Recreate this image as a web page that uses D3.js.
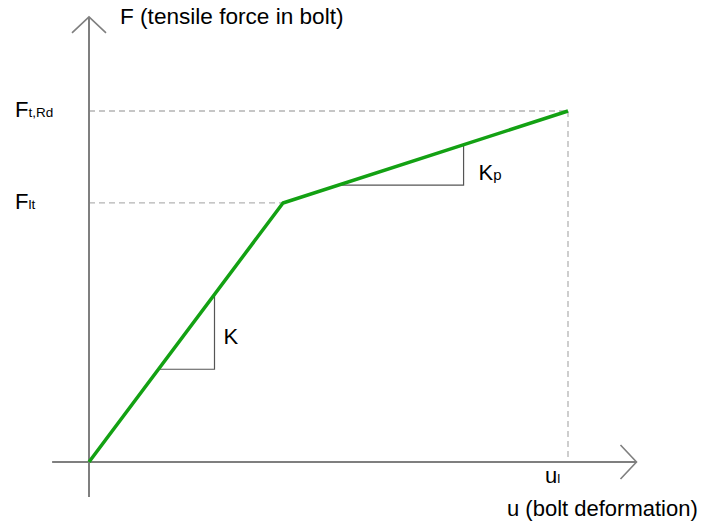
<!DOCTYPE html>
<html><head><meta charset="utf-8">
<script src="https://cdn.jsdelivr.net/npm/d3@7"></script>
<style>
html,body{margin:0;padding:0;background:#fff;}
svg text{font-family:"Liberation Sans",Arial,sans-serif;fill:#000;}
</style></head>
<body>
<svg id="chart" width="702" height="522"></svg>
<script>
// Data (normalised units)
const uPoints = [0, 0.405, 1.0];        // bolt deformation: origin, u at F_lt, u_l
const fPoints = [0, 0.738, 1.0];        // tensile force: origin, F_lt, F_t,Rd
const xAxisExtent = [-0.077, 1.143];
const yAxisExtent = [-0.10, 1.268];
const slopeTriangles = [
  {label: "K", sub: "", seg: 0, u0: 0.145, u1: 0.262},
  {label: "K", sub: "p", seg: 1, u0: 0.52, u1: 0.782}
];
const yLabels = [
  {main: "F", sub: "t,Rd", f: 1.0},
  {main: "F", sub: "lt", f: 0.738}
];
const xLabel = {main: "u", sub: "l", u: 1.0};
const yTitle = "F (tensile force in bolt)";
const xTitle = "u (bolt deformation)";

const svg = d3.select("#chart");
const x = d3.scaleLinear().domain([0, 1]).range([89, 568]);
const y = d3.scaleLinear().domain([0, 1]).range([462, 111]);

const axisColor = "#7f7f7f";

// dashed guide lines
const dash = svg.append("g").attr("stroke", "#b4b4b4").attr("stroke-width", 1.3)
  .attr("stroke-dasharray", "6,4").attr("fill", "none");
dash.append("line").attr("x1", x(0)).attr("x2", x(uPoints[2])).attr("y1", y(fPoints[2])).attr("y2", y(fPoints[2]));
dash.append("line").attr("x1", x(0)).attr("x2", x(uPoints[1])).attr("y1", y(fPoints[1])).attr("y2", y(fPoints[1]));
dash.append("line").attr("x1", x(uPoints[2])).attr("x2", x(uPoints[2])).attr("y1", y(fPoints[2])).attr("y2", y(0));

// axes
const ax = svg.append("g").attr("stroke", axisColor).attr("fill", "none");
ax.append("line").attr("x1", x(xAxisExtent[0])).attr("x2", x(xAxisExtent[1]))
  .attr("y1", y(0)).attr("y2", y(0)).attr("stroke-width", 2);
ax.append("line").attr("x1", x(0)).attr("x2", x(0))
  .attr("y1", y(yAxisExtent[0])).attr("y2", y(yAxisExtent[1])).attr("stroke-width", 2);
// arrow heads
const xt = x(xAxisExtent[1]), yt = y(yAxisExtent[1]);
ax.append("path").attr("stroke-width", 1.6).attr("stroke-linejoin", "miter")
  .attr("d", `M${xt-16},${y(0)-17} L${xt},${y(0)} L${xt-16},${y(0)+17}`);
ax.append("path").attr("stroke-width", 1.6).attr("stroke-linejoin", "miter")
  .attr("d", `M${x(0)-17},${yt+16} L${x(0)},${yt} L${x(0)+17},${yt+16}`);

// slope triangles
function fOnSeg(seg, u) {
  const u0 = uPoints[seg], u1 = uPoints[seg+1], f0 = fPoints[seg], f1 = fPoints[seg+1];
  return f0 + (u - u0) * (f1 - f0) / (u1 - u0);
}
const labelOffsets = [{dx: 9, dy: -25}, {dx: 15, dy: -5}];
const tri = svg.append("g").attr("stroke", "#555").attr("stroke-width", 1.2).attr("fill", "none");
slopeTriangles.forEach((t, i) => {
  const fa = fOnSeg(t.seg, t.u0), fb = fOnSeg(t.seg, t.u1);
  tri.append("path").attr("d",
    `M${x(t.u0)},${y(fa)} L${x(t.u1)},${y(fa)} L${x(t.u1)},${y(fb)}`);
  const tx = svg.append("text").attr("x", x(t.u1) + labelOffsets[i].dx).attr("y", y(fa) + labelOffsets[i].dy)
    .attr("font-size", 22).text(t.label);
  if (t.sub) tx.append("tspan").attr("font-size", 15).text(t.sub);
});

// green force-deformation curve
svg.append("path")
  .datum(d3.zip(uPoints, fPoints))
  .attr("fill", "none").attr("stroke", "#13a113").attr("stroke-width", 3.5)
  .attr("stroke-linejoin", "round")
  .attr("d", d3.line().x(d => x(d[0])).y(d => y(d[1])));

// y labels
yLabels.forEach(l => {
  const t = svg.append("text").attr("x", 15).attr("y", y(l.f) + 6).attr("font-size", 22).text(l.main);
  t.append("tspan").attr("font-size", 13.5).text(l.sub);
});
// x label
const xl = svg.append("text").attr("x", x(xLabel.u) - 23).attr("y", y(0) + 21).attr("font-size", 22).text(xLabel.main);
xl.append("tspan").attr("font-size", 13.5).text(xLabel.sub);

// titles
svg.append("text").attr("x", 120).attr("y", 24).attr("font-size", 22.6).text(yTitle);
svg.append("text").attr("x", 507).attr("y", 516).attr("font-size", 22).text(xTitle);
</script>
</body></html>
